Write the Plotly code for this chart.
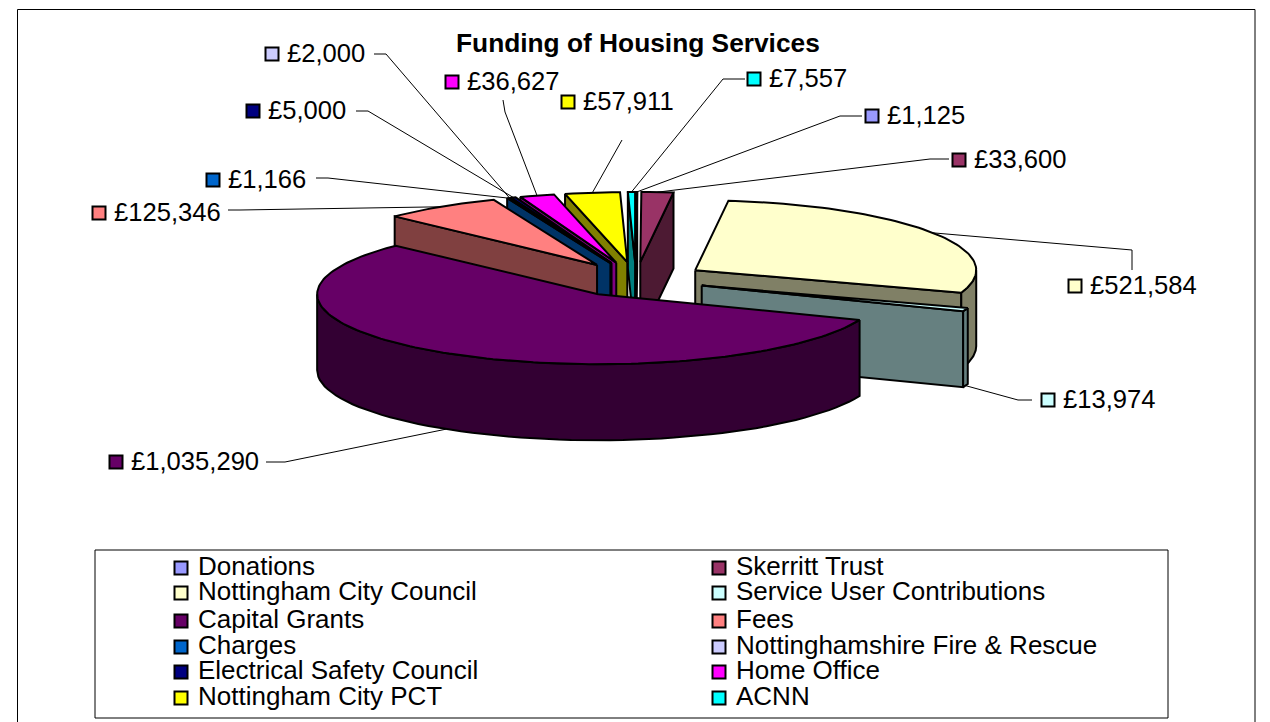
import math
import plotly.graph_objects as go

categories = ["Donations", "Skerritt Trust", "Nottingham City Council", "Service User Contributions",
              "Capital Grants", "Fees", "Charges", "Nottinghamshire Fire & Rescue",
              "Electrical Safety Council", "Home Office", "Nottingham City PCT", "ACNN"]
values = [1125, 33600, 521584, 13974, 1035290, 125346, 1166, 2000, 5000, 36627, 57911, 7557]
top_colors = ["#9999FF", "#993366", "#FFFFCC", "#CCFFFF", "#660066", "#FF8080",
              "#0066CC", "#CCCCFF", "#000080", "#FF00FF", "#FFFF00", "#00FFFF"]
side_colors = ["#4D4D80", "#4D1A33", "#808066", "#668080", "#330033", "#804040",
               "#003366", "#666680", "#000040", "#800080", "#808000", "#008080"]
title = "Funding of Housing Services"

# projection of the pie on the page
CX, CY, RX, RY, DEPTH, EX, EY = 636, 279.5, 281, 70, 76, 70, 17.5

# label layout: marker x, y, leader-out point(s)
label_layout = {
    "Donations": (872, 116, [(862, 116), (840, 116)]),
    "Skerritt Trust": (959, 160, [(949, 159), (930, 159)]),
    "Nottingham City Council": (1075, 286, [(1132, 270), (1132, 250)]),
    "Service User Contributions": (1048, 400, [(1032, 400), (1018, 400)]),
    "Capital Grants": (116, 462, [(266, 462), (285, 462)]),
    "Fees": (99, 213, [(228, 210), (240, 210)]),
    "Charges": (213, 180, [(316, 178), (328, 178)]),
    "Nottinghamshire Fire & Rescue": (272, 54, [(374, 54), (386, 54)]),
    "Electrical Safety Council": (253, 111, [(356, 111), (368, 111)]),
    "Home Office": (452, 82, [(503, 100), (505, 112)]),
    "Nottingham City PCT": (568, 102, [(622, 140)]),
    "ACNN": (754, 79, [(745, 79), (723, 79)]),
}
FONT = "Liberation Sans, Arial, sans-serif"
FS_LABEL = 25.6
FS_LEGEND = 26
BODY = 8  # the page's default body margin

fig = go.Figure()
total = sum(values)


def poly(xs, ys, fill):
    fig.add_trace(go.Scatter(x=xs + xs[:1], y=ys + ys[:1], mode="lines", fill="toself", fillcolor=fill,
                             line=dict(color="black", width=2), hoverinfo="skip", showlegend=False))


def rim(ax, ay, th):
    return ax + RX * math.sin(th), ay - RY * math.cos(th)


def keyed(x, y, text, color, gap, size, dy):
    fig.add_trace(go.Scatter(x=[x], y=[y], mode="markers", name=text,
                             marker=dict(symbol="square", size=13, color=color, line=dict(color="black", width=2)),
                             hoverinfo="skip", showlegend=False))
    fig.add_trace(go.Scatter(x=[x + gap], y=[y + dy], mode="text", text=[text], textposition="middle right",
                             textfont=dict(family=FONT, size=size, color="black"),
                             hoverinfo="skip", showlegend=False))


slices = []
cum = 0
for i, v in enumerate(values):
    a0 = cum / total * 2 * math.pi
    cum += v
    a1 = cum / total * 2 * math.pi
    mid = (a0 + a1) / 2
    ax = CX + EX * math.sin(mid)
    ay = CY - EY * math.cos(mid)
    slices.append(dict(i=i, a0=a0, a1=a1, mid=mid, ax=ax, ay=ay))

for s in sorted(slices, key=lambda q: -math.cos(q["mid"])):
    i, a0, a1, mid, ax, ay = s["i"], s["a0"], s["a1"], s["mid"], s["ax"], s["ay"]
    # radial walls, drawn when the slice top lies above them on the page
    mx, my = RX * math.sin(mid) * .5, -RY * math.cos(mid) * .5
    for th in (a0, a1):
        dx, dy = RX * math.sin(th), -RY * math.cos(th)
        if abs(dx) < 1e-6:
            continue
        if my < dy / dx * mx and a1 - a0 < math.pi:
            ex, ey = rim(ax, ay, th)
            poly([ax, ex, ex, ax], [ay, ey, ey + DEPTH, ay + DEPTH], side_colors[i])
    # outer wall on the front half
    lo, hi = max(a0, math.pi / 2), min(a1, 3 * math.pi / 2)
    if hi > lo:
        n = 60
        ths = [lo + (hi - lo) * k / n for k in range(n + 1)]
        pts = [rim(ax, ay, t) for t in ths]
        poly([p[0] for p in pts] + [p[0] for p in pts[::-1]],
             [p[1] for p in pts] + [p[1] + DEPTH for p in pts[::-1]], side_colors[i])
    # top
    n = max(2, int((a1 - a0) * 40))
    pts = [rim(ax, ay, a0 + (a1 - a0) * k / n) for k in range(n + 1)]
    poly([ax] + [p[0] for p in pts], [ay] + [p[1] for p in pts], top_colors[i])

# leader lines and value labels
for s in slices:
    i = s["i"]
    mkx, mky, elbow = label_layout[categories[i]]
    ex, ey = rim(s["ax"], s["ay"], s["mid"])
    if math.cos(s["mid"]) < 0:
        ey += DEPTH
    fig.add_trace(go.Scatter(x=[p[0] for p in elbow] + [ex], y=[p[1] for p in elbow] + [ey], mode="lines",
                             line=dict(color="black", width=1), hoverinfo="skip", showlegend=False))
    keyed(mkx, mky, "£{:,}".format(values[i]), top_colors[i], 15, FS_LABEL, 2)

# legend
legend_rows = [568, 593, 621, 647, 672, 698]
legend_cols = [181, 719]
for i, name in enumerate(categories):
    keyed(legend_cols[i % 2], legend_rows[i // 2], name, top_colors[i], 17, FS_LEGEND, 0)

fig.update_layout(
    width=1270, height=722, margin=dict(l=0, r=0, t=0, b=0),
    paper_bgcolor="white", plot_bgcolor="white", showlegend=False,
    xaxis=dict(range=[BODY, 1270 + BODY], visible=False, fixedrange=True),
    yaxis=dict(range=[722 + BODY, BODY], visible=False, fixedrange=True),
    annotations=[dict(x=638, y=43, xref="x", yref="y", text="<b>" + title + "</b>", showarrow=False,
                      font=dict(family=FONT, size=26.3, color="black"))],
    shapes=[dict(type="rect", x0=17.5, y0=9.5, x1=1255, y1=740, line=dict(color="black", width=1), layer="below"),
            dict(type="rect", x0=95, y0=550, x1=1168, y1=718, line=dict(color="black", width=1), layer="below")],
)
fig.write_html("out.html", config=dict(displayModeBar=False))
